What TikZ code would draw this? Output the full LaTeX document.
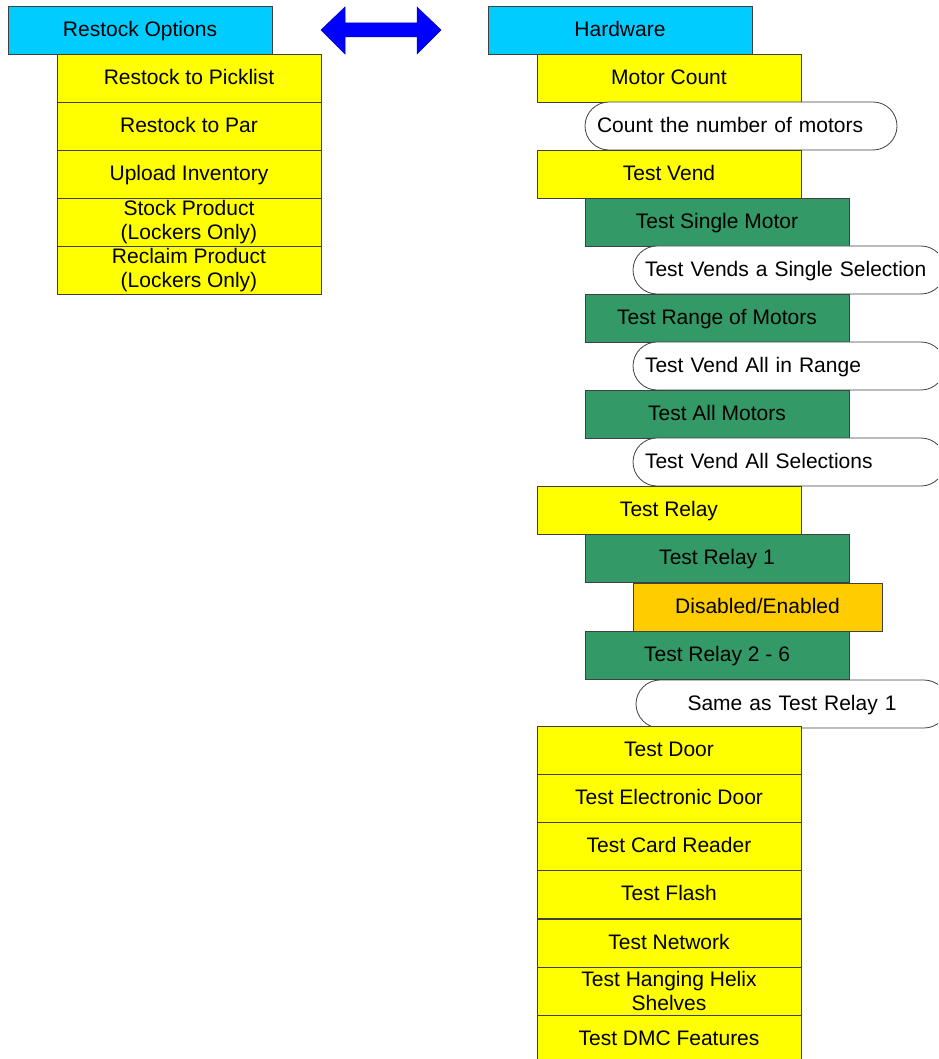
\documentclass[tikz,border=0pt]{standalone}
\usepackage{fontspec}
\setmainfont{Liberation Sans}
\usepackage{xcolor}
\usepackage{tikz}
\definecolor{menucyan}{HTML}{00CCFF}
\definecolor{menuyellow}{HTML}{FFFF00}
\definecolor{menugreen}{HTML}{339966}
\definecolor{menuorange}{HTML}{FFCC00}
\definecolor{menuline}{HTML}{404040}

\begin{document}
\begin{tikzpicture}[x=1pt,y=-1pt,
    every node/.style={font=\fontsize{21}{24}\selectfont},
    menubox/.style={draw=menuline,line width=0.8pt,minimum width=264pt,minimum height=48pt,inner sep=0pt,align=center,text height=15pt,text depth=2.5pt},
    twoline/.style={text height=,text depth=},
    headbox/.style={menubox,fill=menucyan},
    itembox/.style={menubox,fill=menuyellow},
    subbox/.style={menubox,fill=menugreen},
    optbox/.style={menubox,fill=menuorange,minimum width=249pt},
    notepill/.style={draw=menuline,line width=0.8pt,fill=white,rounded corners=24pt,minimum height=48pt,inner xsep=12pt,inner ysep=0pt,text width=288pt,align=left,text height=15pt,text depth=2.5pt}]
  \clip (0,0) rectangle (938,1059);
  % left menu
  \node[headbox] (restock) at (140,30.5) {Restock Options};
  \node[itembox] (picklist) at (189,78) {Restock to Picklist};
  \node[itembox] (par) at (189,126) {Restock to Par};
  \node[itembox] (upload) at (189,174) {Upload Inventory};
  \node[itembox,twoline] (stock) at (189,222) {Stock Product\\(Lockers Only)};
  \node[itembox,twoline] (reclaim) at (189,270) {Reclaim Product\\(Lockers Only)};
  % double arrow
  \coordinate (arrowmid) at (381,30);
  \fill[blue,draw=blue!70!black,line width=0.5pt] (321,30) -- (345,7) -- (345,23) -- (417,23) -- (417,7) -- (441,30)
        -- (417,54) -- (417,37) -- (345,37) -- (345,54) -- cycle;
  % right menu
  \node[headbox] (hardware) at (620,30.5) {Hardware};
  \node[itembox] (motorcount) at (669,78) {Motor Count};
  \node[notepill] (countnote) at (741,126) {Count the number of motors};
  \node[itembox] (testvend) at (669,174) {Test Vend};
  \node[subbox] (single) at (717,222) {Test Single Motor};
  \node[notepill] (singlenote) at (789,270) {Test Vends a Single Selection};
  \node[subbox] (range) at (717,318) {Test Range of Motors};
  \node[notepill] (rangenote) at (789,366) {Test Vend All in Range};
  \node[subbox] (allmotors) at (717,414) {Test All Motors};
  \node[notepill] (allnote) at (789,462) {Test Vend All Selections};
  \node[itembox] (relay) at (669,510) {Test Relay};
  \node[subbox] (relayone) at (717,558) {Test Relay 1};
  \node[optbox] (toggle) at (757.5,607) {Disabled/Enabled};
  \node[subbox] (relaytwo) at (717,655.5) {Test Relay 2 - 6};
  \node[notepill,align=center] (relaynote) at (792,704) {Same as Test Relay 1};
  \node[itembox] (door) at (669,750.5) {Test Door};
  \node[itembox] (edoor) at (669,798) {Test Electronic Door};
  \node[itembox] (card) at (669,846) {Test Card Reader};
  \node[itembox] (flash) at (669,894) {Test Flash};
  \node[itembox] (network) at (669,943.5) {Test Network};
  \node[itembox,twoline] (helix) at (669,991) {Test Hanging Helix\\Shelves};
  \node[itembox] (dmc) at (669,1039) {Test DMC Features};
\end{tikzpicture}
\end{document}
